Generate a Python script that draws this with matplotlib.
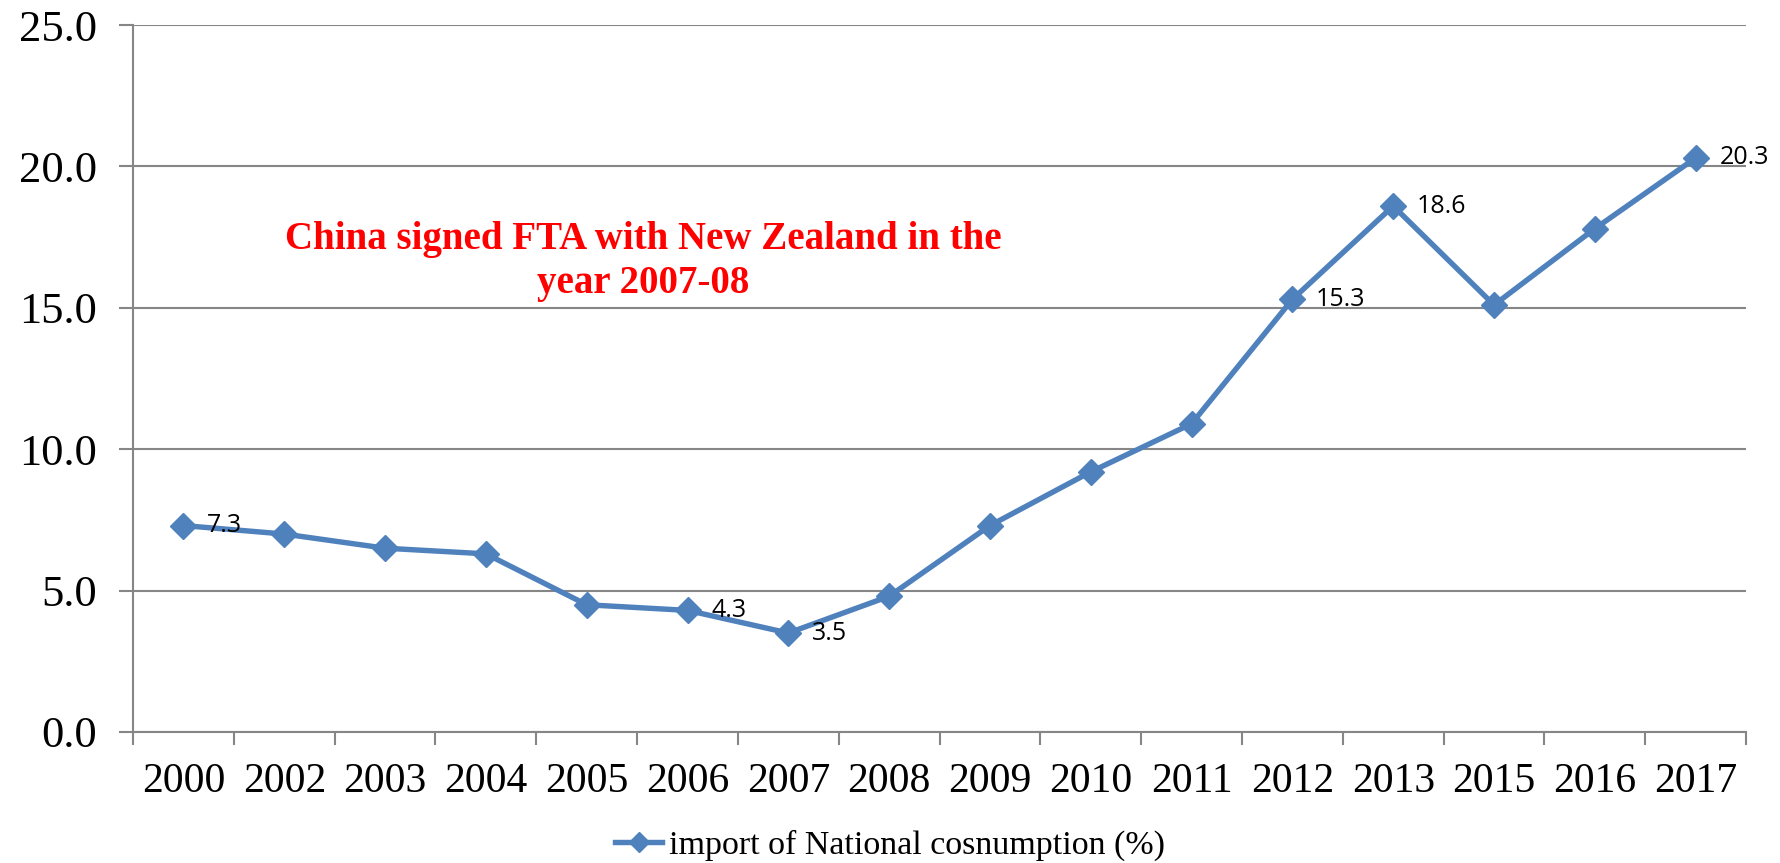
import matplotlib
matplotlib.use('Agg')
import matplotlib.pyplot as plt
import numpy as np

years = ['2000', '2002', '2003', '2004', '2005', '2006', '2007', '2008',
         '2009', '2010', '2011', '2012', '2013', '2015', '2016', '2017']
values = [7.3, 7.0, 6.5, 6.3, 4.5, 4.3, 3.5, 4.8,
          7.3, 9.2, 10.9, 15.3, 18.6, 15.1, 17.8, 20.3]
labelled = ['2000', '2006', '2007', '2012', '2013', '2017']
yticks = [0, 5, 10, 15, 20, 25]

blue = '#4F81BD'
grey = '#868686'

fig = plt.figure(figsize=(17.81, 8.63), dpi=100)
ax = fig.add_axes([0.0747, 0.1518, 0.9057, 0.8192])

xs = np.arange(len(years))
line, = ax.plot(xs, values, color=blue, lw=3.9, marker='D', ms=13,
                label='import of National cosnumption (%)', zorder=3)

for yr, x, v in zip(years, xs, values):
    if yr in labelled:
        ax.annotate('%.1f' % v, (x, v), xytext=(17, 0), textcoords='offset points',
                    va='center', ha='left', fontsize=18,
                    family='Open Sans', color='black')

ax.text(4.56, 16.65, 'China signed FTA with New Zealand in the\nyear 2007-08',
        color='red', fontsize=28, fontweight='bold', family='Liberation Serif',
        ha='center', va='center', linespacing=1.25)

ax.set_xlim(-0.5, len(years) - 0.5)
ax.set_ylim(0, 25)
ax.set_yticks(yticks)
ax.set_yticklabels(['%.1f' % t for t in yticks], family='Liberation Serif', fontsize=32)
ax.tick_params(axis='y', length=10, width=1.5, color=grey, pad=16)

ax.set_xticks(np.arange(len(years) + 1) - 0.5)
ax.set_xticklabels([])
ax.set_xticks(xs, minor=True)
ax.set_xticklabels(years, minor=True, family='Liberation Serif', fontsize=30)
ax.tick_params(axis='x', which='major', length=9, width=1.5, color=grey)
ax.tick_params(axis='x', which='minor', length=0, pad=22)

ax.grid(axis='y', color=grey, lw=1.5)
ax.set_axisbelow(True)
for s in ['top', 'right']:
    ax.spines[s].set_visible(False)
for s in ['left', 'bottom']:
    ax.spines[s].set_color(grey)
    ax.spines[s].set_linewidth(1.5)

fig.legend(handles=[line], loc='center left', bbox_to_anchor=(0.328, 0.02),
           frameon=False, prop={'family': 'Liberation Serif', 'size': 24.5},
           handlelength=1.4, handletextpad=0.2, markerscale=0.8)

fig.savefig('out.png', dpi=100)
